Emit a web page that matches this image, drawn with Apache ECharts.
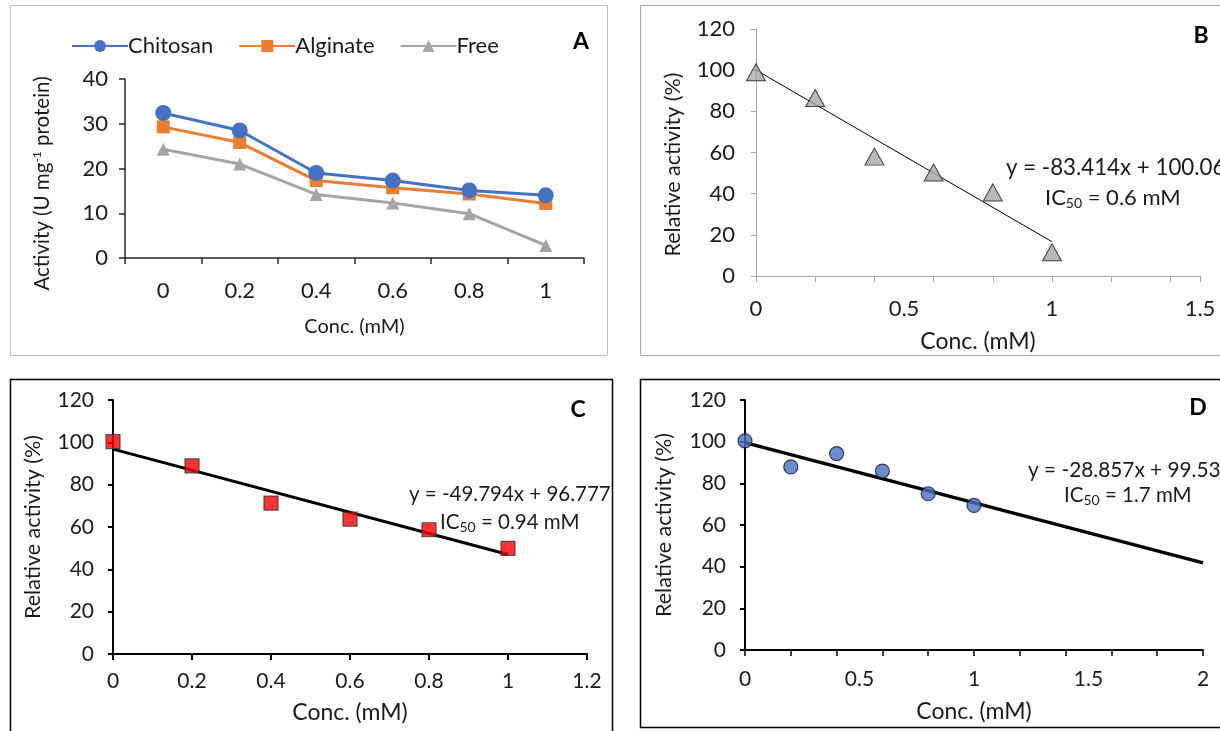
<!DOCTYPE html>
<html>
<head>
<meta charset="utf-8">
<script src="https://cdn.jsdelivr.net/npm/echarts@6/dist/echarts.min.js"></script>
<style>
html,body{margin:0;padding:0;background:#fff;}
#c{width:1220px;height:731px;}
</style>
</head>
<body>
<div id="c"></div>
<script>
// ---- Panel A data ----
const catsA = ['0', '0.2', '0.4', '0.6', '0.8', '1'];
const chitosan = [32.4, 28.5, 19.0, 17.3, 15.1, 14.0];
const alginate = [29.3, 25.8, 17.3, 15.7, 14.3, 12.2];
const freeEnz = [24.3, 21.0, 14.2, 12.3, 9.9, 2.8];
const yTicksA = [0, 10, 20, 30, 40];

// ---- Panels B, C, D data ----
const conc = [0, 0.2, 0.4, 0.6, 0.8, 1];
const relB = [99.0, 86.5, 58.0, 50.3, 40.6, 11.5];
const relC = [100.3, 88.9, 71.3, 63.7, 58.7, 49.9];
const relD = [100.4, 87.9, 94.3, 85.9, 75.0, 69.4];

const trendB = [[0, 100.06], [1, 16.65]];
const trendC = [[0, 96.78], [1, 46.98]];
const trendD = [[0, 99.54], [2, 41.82]];

const eqB = ['y = -83.414x + 100.06', '0.6'];
const eqC = ['y = -49.794x + 96.777', '0.94'];
const eqD = ['y = -28.857x + 99.535', '1.7'];

const FONT = 'Lato';
const TXT = '#1a1a1a';
const pair = (xs, ys) => xs.map((x, i) => [x, ys[i]]);

const chart = echarts.init(document.getElementById('c'), null, {renderer: 'canvas'});

function valueY(grid, color, lw, fs, margin, name, nameGap, nfs, pad) {
  return {
    type: 'value', gridIndex: grid, min: 0, max: 120, interval: 20,
    axisLine: {show: true, lineStyle: {color: color, width: lw}},
    axisTick: {show: true, inside: false, length: 5, lineStyle: {color: color, width: lw}},
    splitLine: {show: false},
    axisLabel: {fontFamily: FONT, fontSize: fs, color: TXT, margin: margin},
    name: name, nameLocation: 'middle', nameGap: nameGap, nameRotate: 90,
    nameTextStyle: {fontFamily: FONT, fontSize: nfs, color: TXT, padding: pad || 0}
  };
}

function icText(v) {
  return 'IC{sub|50} = ' + v + ' mM';
}
const eqRich = {sub: {fontFamily: FONT, fontSize: 14, padding: [10, 0, 0, 0], fill: TXT}};

const option = {
  animation: false,
  backgroundColor: '#fff',
  grid: [
    {left: 125, top: 79, width: 459, height: 179},
    {left: 756, top: 29, width: 444, height: 247},
    {left: 113, top: 400, width: 474, height: 254},
    {left: 745, top: 400, width: 458, height: 250}
  ],
  legend: {
    left: 66, top: 30, itemWidth: 56, itemHeight: 15, itemGap: 25,
    textStyle: {fontFamily: FONT, fontSize: 22, color: TXT, padding: [0, 0, 0, -5]},
    data: ['Chitosan', 'Alginate', 'Free']
  },
  xAxis: [
    { // A
      type: 'category', gridIndex: 0, data: catsA, boundaryGap: true,
      axisLine: {lineStyle: {color: '#262626', width: 1.5}},
      axisTick: {show: true, length: 6, lineStyle: {color: '#262626', width: 1.5}},
      axisLabel: {fontFamily: FONT, fontSize: 22, color: TXT, margin: 22},
      name: 'Conc. (mM)', nameLocation: 'middle', nameGap: 59,
      nameTextStyle: {fontFamily: FONT, fontSize: 20, color: TXT}
    },
    { // B ticks
      type: 'value', gridIndex: 1, min: 0, max: 1.5, interval: 0.2, position: 'bottom',
      axisLine: {show: true, onZero: false, lineStyle: {color: '#a6a6a6', width: 1}},
      axisTick: {show: true, length: 6, lineStyle: {color: '#a6a6a6'}},
      axisLabel: {show: false}, splitLine: {show: false}
    },
    { // B labels
      type: 'value', gridIndex: 1, min: 0, max: 1.5, interval: 0.5, position: 'bottom',
      axisLine: {show: false}, axisTick: {show: false}, splitLine: {show: false},
      axisLabel: {fontFamily: FONT, fontSize: 22, color: TXT, margin: 22},
      name: 'Conc. (mM)', nameLocation: 'middle', nameGap: 54,
      nameTextStyle: {fontFamily: FONT, fontSize: 23, color: TXT}
    },
    { // C
      type: 'value', gridIndex: 2, min: 0, max: 1.2, interval: 0.2,
      axisLine: {show: true, onZero: false, lineStyle: {color: '#000', width: 2}},
      axisTick: {show: true, length: 6, lineStyle: {color: '#000', width: 2}},
      splitLine: {show: false},
      axisLabel: {fontFamily: FONT, fontSize: 21, color: TXT, margin: 17},
      name: 'Conc. (mM)', nameLocation: 'middle', nameGap: 47,
      nameTextStyle: {fontFamily: FONT, fontSize: 23, color: TXT}
    },
    { // D ticks
      type: 'value', gridIndex: 3, min: 0, max: 2, interval: 0.2, position: 'bottom',
      axisLine: {show: true, onZero: false, lineStyle: {color: '#000', width: 2}},
      axisTick: {show: true, length: 6, lineStyle: {color: '#000', width: 1.5}},
      axisLabel: {show: false}, splitLine: {show: false}
    },
    { // D labels
      type: 'value', gridIndex: 3, min: 0, max: 2, interval: 0.5, position: 'bottom',
      axisLine: {show: false}, axisTick: {show: false}, splitLine: {show: false},
      axisLabel: {fontFamily: FONT, fontSize: 21, color: TXT, margin: 19},
      name: 'Conc. (mM)', nameLocation: 'middle', nameGap: 50,
      nameTextStyle: {fontFamily: FONT, fontSize: 23, color: TXT}
    }
  ],
  yAxis: [
    {
      type: 'value', gridIndex: 0, min: yTicksA[0], max: yTicksA[yTicksA.length - 1], interval: 10,
      axisLine: {show: true, lineStyle: {color: '#262626', width: 1.5}},
      axisTick: {show: true, length: 6, lineStyle: {color: '#262626', width: 1.5}},
      splitLine: {show: false},
      axisLabel: {fontFamily: FONT, fontSize: 22, color: TXT, margin: 17},
      name: 'Activity (U mg{sup|-1} protein)', nameLocation: 'middle', nameGap: 72, nameRotate: 90,
      nameTextStyle: {fontFamily: FONT, fontSize: 20.5, color: TXT, padding: [0, 30, 0, 0],
        rich: {sup: {fontFamily: FONT, fontSize: 12, padding: [0, 0, 10, 0]}}}
    },
    valueY(1, '#a6a6a6', 1, 22, 21, 'Relative activity (%)', 72, 21.5, [0, 24, 0, 0]),
    valueY(2, '#000', 2, 21, 19, 'Relative activity (%)', 69, 21.5),
    valueY(3, '#000', 2, 21, 19, 'Relative activity (%)', 70, 21.5)
  ],
  series: [
    {name: 'Chitosan', type: 'line', xAxisIndex: 0, yAxisIndex: 0, data: chitosan,
      symbol: 'circle', symbolSize: 16, lineStyle: {color: '#4472c4', width: 3},
      itemStyle: {color: '#4472c4'}, z: 4},
    {name: 'Alginate', type: 'line', xAxisIndex: 0, yAxisIndex: 0, data: alginate,
      symbol: 'rect', symbolSize: 13, lineStyle: {color: '#ed7d31', width: 3},
      itemStyle: {color: '#ed7d31'}, z: 3},
    {name: 'Free', type: 'line', xAxisIndex: 0, yAxisIndex: 0, data: freeEnz,
      symbol: 'triangle', symbolSize: 13, lineStyle: {color: '#a5a5a5', width: 3},
      itemStyle: {color: '#a5a5a5'}, z: 2},

    {type: 'line', xAxisIndex: 1, yAxisIndex: 1, data: trendB, symbol: 'none',
      lineStyle: {color: '#000', width: 1}, z: 2},
    {type: 'scatter', xAxisIndex: 1, yAxisIndex: 1, data: pair(conc, relB),
      symbol: 'triangle', symbolSize: [19, 17],
      itemStyle: {color: '#a6a6a6', borderColor: '#1a1a1a', borderWidth: 1}, z: 3},

    {type: 'line', xAxisIndex: 3, yAxisIndex: 2, data: trendC, symbol: 'none',
      lineStyle: {color: '#000', width: 3}, z: 2},
    {type: 'scatter', xAxisIndex: 3, yAxisIndex: 2, data: pair(conc, relC),
      symbol: 'rect', symbolSize: 14,
      itemStyle: {color: '#ff0000', borderColor: '#333', borderWidth: 1.2}, z: 3},

    {type: 'line', xAxisIndex: 4, yAxisIndex: 3, data: trendD, symbol: 'none',
      lineStyle: {color: '#000', width: 3.5}, z: 2},
    {type: 'scatter', xAxisIndex: 4, yAxisIndex: 3, data: pair(conc, relD),
      symbol: 'circle', symbolSize: 14,
      itemStyle: {color: '#4472c4', borderColor: '#1a1a1a', borderWidth: 1.2}, z: 3}
  ],
  graphic: [
    {type: 'rect', shape: {x: 10.5, y: 5.5, width: 597, height: 350}, style: {fill: 'none', stroke: '#bfbfbf', lineWidth: 1}, z: -1},
    {type: 'rect', shape: {x: 640.5, y: 5.5, width: 600, height: 350}, style: {fill: 'none', stroke: '#a6a6a6', lineWidth: 1}, z: -1},
    {type: 'rect', shape: {x: 10.5, y: 379.5, width: 602, height: 370}, style: {fill: 'none', stroke: '#000', lineWidth: 1.5}, z: -1},
    {type: 'rect', shape: {x: 640.5, y: 379.5, width: 600, height: 348}, style: {fill: 'none', stroke: '#000', lineWidth: 1.5}, z: -1},

    {type: 'text', x: 581, y: 42, style: {text: 'A', fontFamily: FONT, fontWeight: 'bold', fontSize: 23, fill: '#000', align: 'center', verticalAlign: 'middle'}},
    {type: 'text', x: 1201, y: 36, style: {text: 'B', fontFamily: FONT, fontWeight: 'bold', fontSize: 23, fill: '#000', align: 'center', verticalAlign: 'middle'}},
    {type: 'text', x: 578, y: 410, style: {text: 'C', fontFamily: FONT, fontWeight: 'bold', fontSize: 23, fill: '#000', align: 'center', verticalAlign: 'middle'}},
    {type: 'text', x: 1198, y: 408, style: {text: 'D', fontFamily: FONT, fontWeight: 'bold', fontSize: 23, fill: '#000', align: 'center', verticalAlign: 'middle'}},

    {type: 'text', x: 1006, y: 168, style: {text: eqB[0], fontFamily: FONT, fontSize: 22.3, fill: TXT, align: 'left', verticalAlign: 'middle'}},
    {type: 'text', x: 1045, y: 198, style: {text: icText(eqB[1]), rich: eqRich, fontFamily: FONT, fontSize: 22, fill: TXT, align: 'left', verticalAlign: 'middle'}},
    {type: 'text', x: 409, y: 494, style: {text: eqC[0], fontFamily: FONT, fontSize: 20.5, fill: TXT, align: 'left', verticalAlign: 'middle'}},
    {type: 'text', x: 440, y: 522, style: {text: icText(eqC[1]), rich: eqRich, fontFamily: FONT, fontSize: 20.5, fill: TXT, align: 'left', verticalAlign: 'middle'}},
    {type: 'text', x: 1028, y: 470, style: {text: eqD[0], fontFamily: FONT, fontSize: 20.8, fill: TXT, align: 'left', verticalAlign: 'middle'}},
    {type: 'text', x: 1064, y: 495, style: {text: icText(eqD[1]), rich: eqRich, fontFamily: FONT, fontSize: 20.5, fill: TXT, align: 'left', verticalAlign: 'middle'}}
  ]
};
chart.setOption(option);
</script>
</body>
</html>
